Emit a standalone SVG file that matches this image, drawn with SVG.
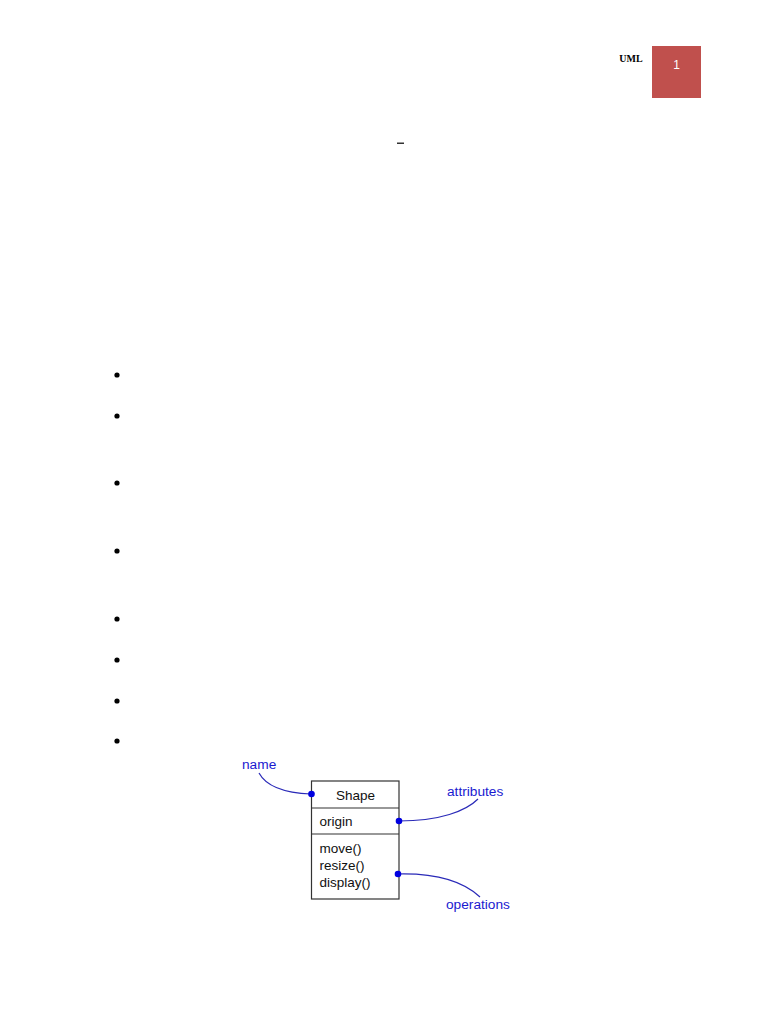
<svg xmlns="http://www.w3.org/2000/svg" width="768" height="1024" viewBox="0 0 768 1024">
<style>
.bul{fill:#000}
.cls{fill:#fff;stroke:#333;stroke-width:1.2}
.t{font-family:"Liberation Sans",Arial,sans-serif;font-size:13.5px;fill:#111}
.lbl{font-family:"Liberation Sans",Arial,sans-serif;font-size:13.7px;fill:#1a1ad0}
.con{fill:none;stroke:#2a2ab8;stroke-width:1.2}
.dot{fill:#0000e0}
</style>
<rect width="768" height="1024" fill="#fff"/>
<g id="header">
<text x="631" y="62" text-anchor="middle" font-family="Liberation Serif,serif" font-weight="bold" font-size="10" fill="#000">UML</text>
<rect x="652" y="46" width="49" height="52" fill="#c0504d"/>
<text x="676.5" y="69" text-anchor="middle" font-family="Liberation Sans,Arial,sans-serif" font-size="12" fill="#fff">1</text>
</g>
<rect x="397" y="142.5" width="7" height="1.5" fill="#333"/>
<g id="bullets">
<circle class="bul" cx="117" cy="375" r="2.6"/>
<circle class="bul" cx="117" cy="416" r="2.6"/>
<circle class="bul" cx="117" cy="483" r="2.6"/>
<circle class="bul" cx="117" cy="551" r="2.6"/>
<circle class="bul" cx="117" cy="619" r="2.6"/>
<circle class="bul" cx="117" cy="660" r="2.6"/>
<circle class="bul" cx="117" cy="701" r="2.6"/>
<circle class="bul" cx="117" cy="741" r="2.6"/>
</g>
<g id="shape-class">
<rect class="cls" x="311.5" y="781" width="87.5" height="118"/>
<line x1="311.5" y1="808" x2="399" y2="808" stroke="#333" stroke-width="1.2"/>
<line x1="311.5" y1="834" x2="399" y2="834" stroke="#333" stroke-width="1.2"/>
<text class="t" x="355.5" y="800" text-anchor="middle">Shape</text>
<text class="t" x="319.5" y="826">origin</text>
<text class="t" x="319.5" y="853">move()</text>
<text class="t" x="319.5" y="870">resize()</text>
<text class="t" x="319.5" y="887">display()</text>
</g>
<g id="connectors">
<path class="con" d="M259,773 C266,786 285,793 311,794"/>
<path class="con" d="M399,821 C440,821 466,811 478,799"/>
<path class="con" d="M398,874 C440,873 465,883 480,897"/>
<circle class="dot" cx="311.5" cy="794" r="3.3"/>
<circle class="dot" cx="399" cy="821" r="3.3"/>
<circle class="dot" cx="398" cy="874" r="3.3"/>
</g>
<g id="labels">
<text class="lbl" x="242" y="769">name</text>
<text class="lbl" x="447" y="796">attributes</text>
<text class="lbl" x="446" y="909">operations</text>
</g>
</svg>
